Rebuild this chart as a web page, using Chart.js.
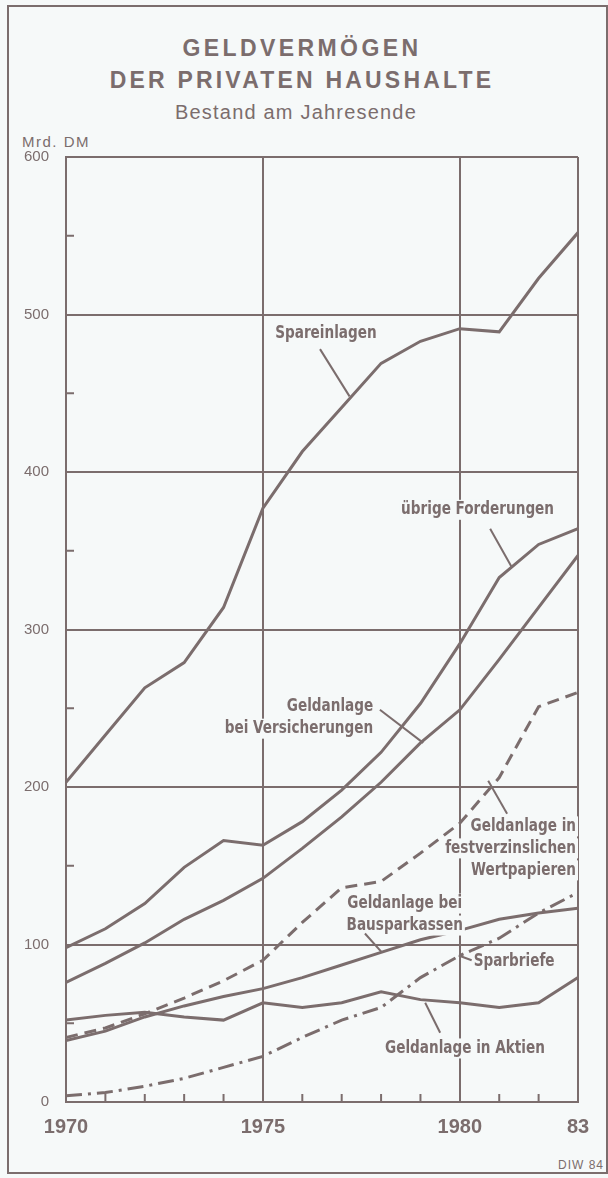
<!DOCTYPE html>
<html>
<head>
<meta charset="utf-8">
<script src="https://cdn.jsdelivr.net/npm/chart.js@4"></script>
<style>
  body { margin: 0; background: #f6f9f9; }
  #wrap { position: relative; width: 608px; height: 1178px; overflow: hidden; }
  #frame { position: absolute; left: 7px; top: 5px; width: 597px; height: 1165px; border: 2px solid #7b6d6d; }
  .t { position: absolute; left: 0; width: 604px; text-align: center; color: #7b6d6d; font-family: "Liberation Sans", Arial, sans-serif; white-space: nowrap; }
  #t1 { top: 35px; font-size: 23px; line-height: 26px; font-weight: bold; letter-spacing: 3.4px; }
  #t2 { top: 67px; font-size: 23px; line-height: 26px; font-weight: bold; letter-spacing: 3.2px; }
  #t3 { top: 100px; font-size: 20px; line-height: 24px; letter-spacing: 1.2px; left: -6px; }
  #unit { position: absolute; left: 22px; top: 133px; font: 15px "Liberation Sans", Arial, sans-serif; letter-spacing: 1.5px; color: #7b6d6d; }
  #src { position: absolute; right: 4px; top: 1158px; font: 12px "Liberation Sans", Arial, sans-serif; letter-spacing: 1px; color: #7b6d6d; }
  canvas { position: absolute; left: 0; top: 0; }
</style>
</head>
<body>
<div id="wrap">
  <div id="frame"></div>
  <div class="t" id="t1">GELDVERMÖGEN</div>
  <div class="t" id="t2">DER PRIVATEN HAUSHALTE</div>
  <div class="t" id="t3">Bestand am Jahresende</div>
  <div id="unit">Mrd. DM</div>
  <div id="src">DIW 84</div>
  <canvas id="chart" width="608" height="1178"></canvas>
</div>
<script>
// Mrd. DM, Bestand am Jahresende
const years = [1970, 1971, 1972, 1973, 1974, 1975, 1976, 1977, 1978, 1979, 1980, 1981, 1982, 1983];
const spareinlagen = [203, 233, 263, 279, 314, 377, 413, 441, 469, 483, 491, 489, 523, 552];
const uebrigeForderungen = [98, 110, 126, 149, 166, 163, 178, 198, 222, 253, 291, 333, 354, 364];
const versicherungen = [76, 88, 101, 116, 128, 142, 161, 181, 203, 228, 249, 281, 314, 347];
const festverzinslich = [41, 47, 56, 66, 77, 90, 114, 136, 140, 158, 177, 206, 251, 260];
const bausparkassen = [39, 45, 54, 61, 67, 72, 79, 87, 95, 103, 109, 116, 120, 123];
const aktien = [52, 55, 57, 54, 52, 63, 60, 63, 70, 65, 63, 60, 63, 79];
const sparbriefe = [4, 6, 10, 15, 22, 29, 41, 52, 60, 79, 93, 104, 120, 133];

const yTicks = [0, 100, 200, 300, 400, 500, 600];
const yMinor = [50, 150, 250, 350, 450, 550];
const xLabels = { 1970: "1970", 1975: "1975", 1980: "1980", 1983: "83" };
const xGrid = [1975, 1980, 1983];

const ink = "#7b6d6d";
const paper = "#f6f9f9";

function pts(arr) {
    return years.map((yr, i) => ({ x: yr, y: arr[i] }));
}

function line(label, arr, dash) {
    return {
        label: label,
        data: pts(arr),
        borderColor: ink,
        borderWidth: 3,
        borderDash: dash || [],
        pointRadius: 0,
        tension: 0,
        fill: false,
    };
}

// text labels with leader lines (positions in data units)
const notes = [
    { lines: ["Spareinlagen"], x: 1976.6, y: 488, align: "center", lead: [1976.45, 478, 1977.2, 448] },
    { lines: ["übrige Forderungen"], x: 1980.45, y: 376, align: "center", lead: [1980.77, 364, 1981.33, 339] },
    { lines: ["Geldanlage", "bei Versicherungen"], x: 1977.8, y: 251, align: "right", lead: [1977.97, 249, 1979.07, 228] },
    { lines: ["Geldanlage in", "festverzinslichen", "Wertpapieren"], x: 1982.95, y: 175, align: "right", lead: [1980.72, 204, 1981.2, 183] },
    { lines: ["Geldanlage bei", "Bausparkassen"], x: 1978.6, y: 126, align: "center", lead: [1977.59, 107, 1978.02, 95] },
    { lines: ["Sparbriefe"], x: 1980.35, y: 89, align: "left", lead: [1980.3, 90, 1979.97, 93] },
    { lines: ["Geldanlage in Aktien"], x: 1980.13, y: 34, align: "center", lead: [1979.5, 44, 1979.12, 63] },
];

const squeeze = 0.84;

const extras = {
    id: "extras",
    afterDatasetsDraw(chart) {
        const c = chart.ctx;
        const xs = chart.scales.x, ys = chart.scales.y;
        const area = chart.chartArea;
        c.save();
        c.strokeStyle = ink;
        c.lineWidth = 2;
        // minor ticks
        years.forEach(v => {
            if (xLabels[v]) return;
            const px = xs.getPixelForValue(v);
            c.beginPath();
            c.moveTo(px, area.bottom);
            c.lineTo(px, area.bottom - 8);
            c.stroke();
        });
        yMinor.forEach(v => {
            const py = ys.getPixelForValue(v);
            c.beginPath();
            c.moveTo(area.left, py);
            c.lineTo(area.left + 8, py);
            c.stroke();
        });
        // labels
        c.font = "bold 18px 'DejaVu Sans Condensed', sans-serif";
        c.textBaseline = "middle";
        notes.forEach(n => {
            const px = xs.getPixelForValue(n.x);
            const py = ys.getPixelForValue(n.y);
            n.lines.forEach((s, i) => {
                const w = c.measureText(s).width * squeeze;
                const yy = py + i * 22;
                let left = px;
                if (n.align === "center") left = px - w / 2;
                if (n.align === "right") left = px - w;
                c.fillStyle = paper;
                c.fillRect(left - 2, yy - 10, w + 4, 20);
                c.fillStyle = ink;
                c.textAlign = "left";
                c.save();
                c.translate(left, yy);
                c.scale(squeeze, 1);
                c.fillText(s, 0, 0);
                c.restore();
            });
            const l = n.lead;
            c.beginPath();
            c.moveTo(xs.getPixelForValue(l[0]), ys.getPixelForValue(l[1]));
            c.lineTo(xs.getPixelForValue(l[2]), ys.getPixelForValue(l[3]));
            c.stroke();
        });
        c.restore();
    },
};

new Chart(document.getElementById("chart").getContext("2d"), {
    type: "line",
    data: {
        datasets: [
            line("Spareinlagen", spareinlagen),
            line("übrige Forderungen", uebrigeForderungen),
            line("Geldanlage bei Versicherungen", versicherungen),
            line("Geldanlage in festverzinslichen Wertpapieren", festverzinslich, [12, 7]),
            line("Geldanlage bei Bausparkassen", bausparkassen),
            line("Geldanlage in Aktien", aktien),
            line("Sparbriefe", sparbriefe, [16, 6, 3, 6]),
        ],
    },
    options: {
        responsive: false,
        animation: false,
        devicePixelRatio: 1,
        layout: { padding: { top: 157, right: 30, left: 0, bottom: 0 } },
        plugins: { legend: { display: false }, tooltip: { enabled: false } },
        scales: {
            x: {
                type: "linear",
                min: 1970,
                max: 1983,
                afterBuildTicks: s => { s.ticks = years.map(v => ({ value: v })); },
                afterFit: s => { s.height = 76; },
                ticks: {
                    autoSkip: false,
                    maxRotation: 0,
                    padding: 13,
                    color: ink,
                    font: { family: "'Liberation Sans', Arial, sans-serif", size: 20, weight: "bold" },
                    callback: v => xLabels[v] || "",
                },
                grid: {
                    drawTicks: false,
                    lineWidth: 2,
                    color: ctx => (ctx.tick && xGrid.includes(ctx.tick.value) ? ink : "rgba(0,0,0,0)"),
                },
                border: { display: true, color: ink, width: 2 },
            },
            y: {
                min: 0,
                max: 600,
                afterBuildTicks: s => { s.ticks = yTicks.map(v => ({ value: v })); },
                afterFit: s => { s.width = 66; },
                ticks: {
                    padding: 17,
                    color: ink,
                    font: { family: "'Liberation Sans', Arial, sans-serif", size: 15 },
                },
                grid: { drawTicks: false, lineWidth: 2, color: ink },
                border: { display: true, color: ink, width: 2 },
            },
        },
    },
    plugins: [extras],
});
</script>
</body>
</html>
